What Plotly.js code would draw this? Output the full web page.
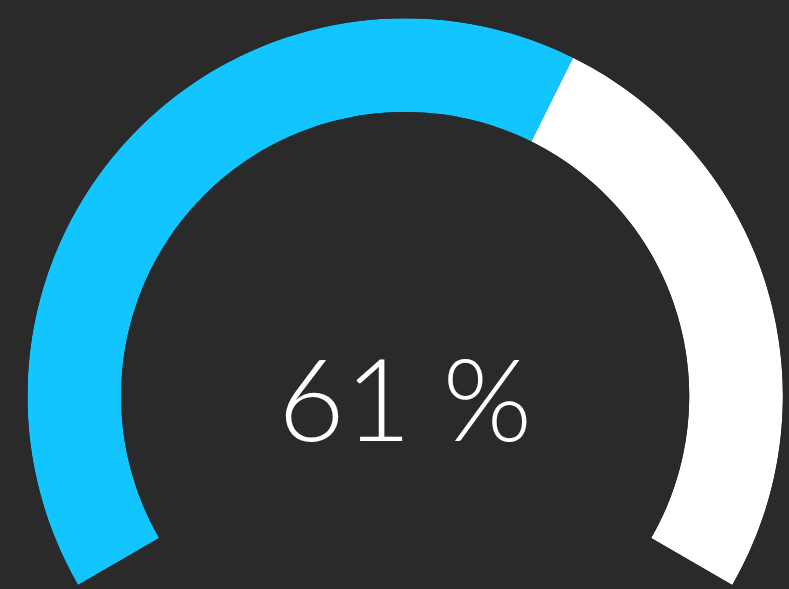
<!DOCTYPE html>
<html>
<head>
<meta charset="utf-8">
<script src="https://cdn.plot.ly/plotly-3.0.1.min.js"></script>
<style>html,body{margin:0;padding:0;background:#2a2a2a;}</style>
</head>
<body>
<div id="chart" style="width:789px;height:589px;"></div>
<script>
const segments = ["Filled", "Remaining"];
const percentValues = [61, 39];
const segmentColors = ["#12c5ff", "#ffffff"];
const labelText = "61 %";

const sweep = 240; // gauge arc in degrees
let start = 0;
const traces = segments.map((name, i) => {
  const w = percentValues[i] / 100 * sweep;
  const t = {
    type: "barpolar",
    name: name,
    r: [1],
    theta: [start + w / 2],
    width: [w],
    marker: {color: segmentColors[i], line: {width: 0}},
    hoverinfo: "skip"
  };
  start += w;
  return t;
});

const layout = {
  width: 789, height: 589,
  margin: {l: 0, r: 0, t: 0, b: 0},
  paper_bgcolor: "#2a2a2a",
  plot_bgcolor: "#2a2a2a",
  showlegend: false,
  polar: {
    domain: {x: [0.034, 0.993], y: [0.007, 0.969]},
    bgcolor: "rgba(0,0,0,0)",
    sector: [-30, 210],
    hole: 0.752,
    bargap: 0,
    radialaxis: {range: [0, 1], visible: false, showgrid: false},
    angularaxis: {visible: false, showgrid: false, direction: "clockwise", rotation: 210, thetaunit: "degrees"}
  },
  annotations: [{
    text: labelText,
    xref: "paper", yref: "paper",
    x: 0.513, y: 0.327,
    xanchor: "center", yanchor: "middle",
    showarrow: false,
    font: {family: "Lato, 'Open Sans', sans-serif", size: 115, color: "#ffffff", weight: 300}
  }]
};

Plotly.newPlot("chart", traces, layout, {displayModeBar: false, staticPlot: true});
</script>
</body>
</html>
